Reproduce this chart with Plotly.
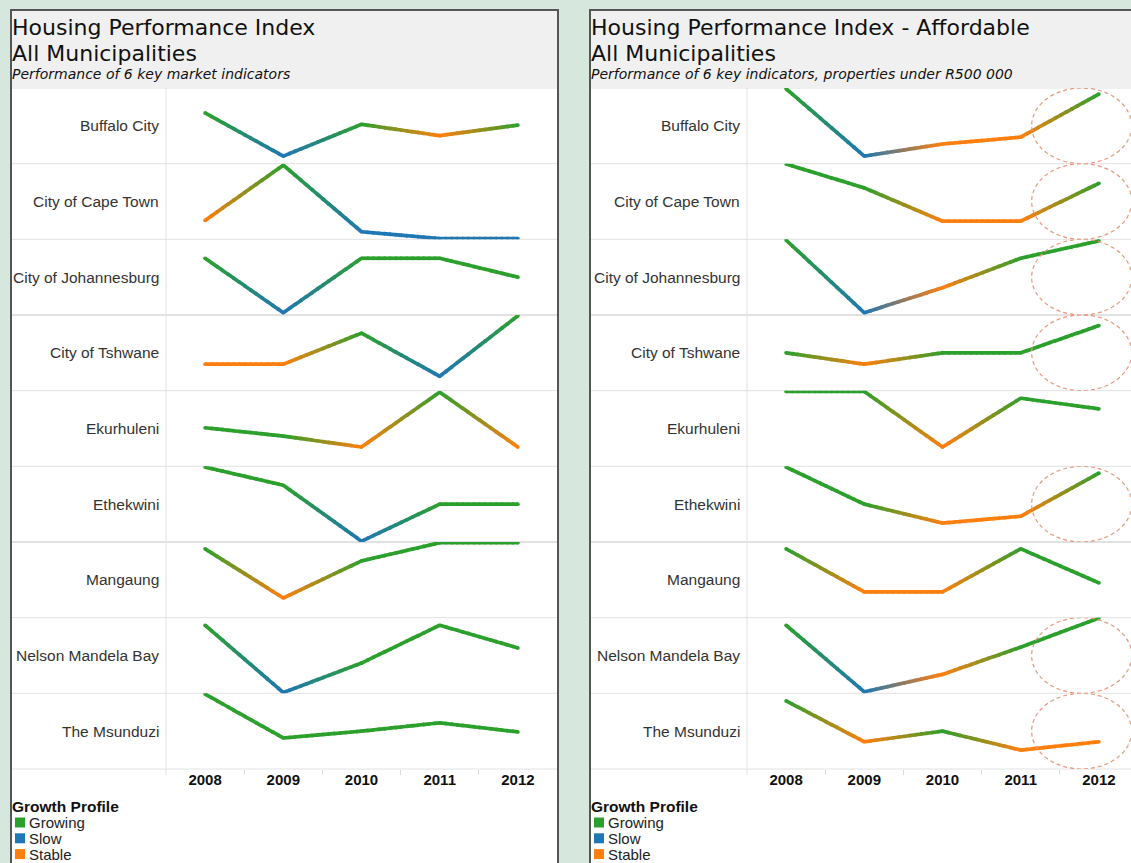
import plotly.graph_objects as go

W, H = 1131, 863

years = [2008, 2009, 2010, 2011, 2012]
municipalities = ["Buffalo City", "City of Cape Town", "City of Johannesburg",
                  "City of Tshwane", "Ekurhuleni", "Ethekwini", "Mangaung",
                  "Nelson Mandela Bay", "The Msunduzi"]
profile_names = ["Growing", "Slow", "Stable"]
profile_colors = {"Growing": "#2ca02c", "Slow": "#1f77b4", "Stable": "#ff7f0e"}
code = {"G": "Growing", "S": "Slow", "T": "Stable"}

# --- Housing Performance Index (all properties): relative score per row, growth profile per year
hpi_buffalo = [6.7, 1.0, 5.2, 3.7, 5.1];    hpi_buffalo_grp = ["G", "S", "G", "T", "G"]
hpi_capetown = [2.5, 9.8, 1.0, 0.1, 0.1];   hpi_capetown_grp = ["T", "G", "S", "S", "S"]
hpi_joburg = [7.5, 0.3, 7.5, 7.5, 5.0];     hpi_joburg_grp = ["G", "S", "G", "G", "G"]
hpi_tshwane = [3.5, 3.5, 7.6, 1.9, 9.9];    hpi_tshwane_grp = ["T", "T", "G", "S", "G"]
hpi_ekurhuleni = [5.1, 4.0, 2.55, 9.8, 2.55]; hpi_ekurhuleni_grp = ["G", "G", "T", "G", "T"]
hpi_ethekwini = [9.9, 7.5, 0.1, 5.0, 5.0];  hpi_ethekwini_grp = ["G", "G", "S", "G", "G"]
hpi_mangaung = [9.1, 2.6, 7.5, 9.9, 9.9];   hpi_mangaung_grp = ["G", "T", "G", "G", "G"]
hpi_nmb = [9.0, 0.1, 4.0, 9.0, 6.0];        hpi_nmb_grp = ["G", "S", "G", "G", "G"]
hpi_msunduzi = [9.9, 4.1, 5.0, 6.1, 4.9];   hpi_msunduzi_grp = ["G", "G", "G", "G", "G"]

# --- Housing Performance Index - Affordable (properties under R500 000)
aff_buffalo = [9.9, 1.0, 2.6, 3.5, 9.2];    aff_buffalo_grp = ["G", "S", "T", "T", "G"]
aff_capetown = [9.95, 6.8, 2.4, 2.4, 7.4];  aff_capetown_grp = ["G", "G", "T", "T", "G"]
aff_joburg = [9.9, 0.3, 3.6, 7.5, 9.8];     aff_joburg_grp = ["G", "S", "T", "G", "G"]
aff_tshwane = [5.0, 3.5, 5.0, 5.0, 8.6];    aff_tshwane_grp = ["G", "T", "G", "G", "G"]
aff_ekurhuleni = [9.9, 9.9, 2.55, 9.0, 7.6]; aff_ekurhuleni_grp = ["G", "G", "T", "G", "G"]
aff_ethekwini = [9.9, 5.0, 2.5, 3.4, 9.1];  aff_ethekwini_grp = ["G", "G", "T", "T", "G"]
aff_mangaung = [9.1, 3.4, 3.4, 9.1, 4.6];   aff_mangaung_grp = ["G", "T", "T", "G", "G"]
aff_nmb = [9.0, 0.2, 2.5, 6.1, 9.95];       aff_nmb_grp = ["G", "S", "T", "G", "G"]
aff_msunduzi = [9.0, 3.6, 5.0, 2.5, 3.6];   aff_msunduzi_grp = ["G", "T", "G", "T", "T"]

# municipalities highlighted with a dashed circle on the affordable panel
highlighted = ["Buffalo City", "City of Cape Town", "City of Johannesburg",
               "City of Tshwane", "Ethekwini", "Nelson Mandela Bay", "The Msunduzi"]

hpi_values = [hpi_buffalo, hpi_capetown, hpi_joburg, hpi_tshwane, hpi_ekurhuleni,
              hpi_ethekwini, hpi_mangaung, hpi_nmb, hpi_msunduzi]
hpi_groups = [hpi_buffalo_grp, hpi_capetown_grp, hpi_joburg_grp, hpi_tshwane_grp,
              hpi_ekurhuleni_grp, hpi_ethekwini_grp, hpi_mangaung_grp, hpi_nmb_grp,
              hpi_msunduzi_grp]
aff_values = [aff_buffalo, aff_capetown, aff_joburg, aff_tshwane, aff_ekurhuleni,
              aff_ethekwini, aff_mangaung, aff_nmb, aff_msunduzi]
aff_groups = [aff_buffalo_grp, aff_capetown_grp, aff_joburg_grp, aff_tshwane_grp,
              aff_ekurhuleni_grp, aff_ethekwini_grp, aff_mangaung_grp, aff_nmb_grp,
              aff_msunduzi_grp]

# ------------------------------------------------------------------ layout helpers
def px(x):
    return x / W


def py(y):
    return 1 - y / H


def hex_rgb(h):
    h = h.lstrip("#")
    return tuple(int(h[i:i + 2], 16) for i in (0, 2, 4))


def blend(c0, c1, t):
    return "rgb(%d,%d,%d)" % tuple(round(a + (b - a) * t) for a, b in zip(c0, c1))


ROW_TOP, ROW_BOTTOM = 88, 769
NROWS = len(municipalities)
ROW_H = (ROW_BOTTOM - ROW_TOP) / NROWS
PX_PER_YEAR = 78.2
FONT_LBL = "Liberation Sans, Arial, sans-serif"
FONT_TTL = "DejaVu Sans, Verdana, sans-serif"

panels = [
    dict(title="Housing Performance Index", sub="Performance of 6 key market indicators",
         values=hpi_values, groups=hpi_groups, box=(11, 558), plot=(166, 557),
         label_x=161, circles=[]),
    dict(title="Housing Performance Index - Affordable",
         sub="Performance of 6 key indicators, properties under R500 000",
         values=aff_values, groups=aff_groups, box=(590, 1140), plot=(747, 1131),
         label_x=742, circles=highlighted),
]

fig = go.Figure()
shapes = []
annotations = []
layout_axes = {}


def add_gradient_line(xs, ys, cats, xa, ya, steps=14, width=3.7):
    buckets = {}
    for i in range(len(xs) - 1):
        c0 = hex_rgb(profile_colors[code[cats[i]]])
        c1 = hex_rgb(profile_colors[code[cats[i + 1]]])
        for k in range(steps):
            t0 = k / steps
            t1 = min(1.0, (k + 1) / steps + 0.02)
            col = blend(c0, c1, (k + 0.5) / steps)
            bx, by = buckets.setdefault(col, ([], []))
            bx += [xs[i] + (xs[i + 1] - xs[i]) * t0, xs[i] + (xs[i + 1] - xs[i]) * t1, None]
            by += [ys[i] + (ys[i + 1] - ys[i]) * t0, ys[i] + (ys[i + 1] - ys[i]) * t1, None]
    for col, (bx, by) in buckets.items():
        fig.add_trace(go.Scatter(x=bx, y=by, mode="lines", xaxis=xa, yaxis=ya,
                                 line=dict(color=col, width=width),
                                 hoverinfo="skip", showlegend=False))
    fig.add_trace(go.Scatter(x=xs, y=ys, mode="markers", xaxis=xa, yaxis=ya,
                             marker=dict(size=width, line=dict(width=0),
                                         color=[profile_colors[code[c]] for c in cats]),
                             hoverinfo="skip", showlegend=False))


ax = 0
for p in panels:
    bx0, bx1 = p["box"]
    plx0, plx1 = p["plot"]
    # panel frame and header
    shapes.append(dict(type="rect", xref="paper", yref="paper", layer="below",
                       x0=px(bx0), x1=px(bx1), y0=py(10), y1=py(880),
                       fillcolor="white", line=dict(color="#555555", width=2)))
    shapes.append(dict(type="rect", xref="paper", yref="paper", layer="below",
                       x0=px(bx0 + 1), x1=px(min(bx1 - 1, W)), y0=py(11), y1=py(87),
                       fillcolor="#f0f0f0", line=dict(width=0)))
    # horizontal separators
    for i in range(NROWS + 1):
        yy = ROW_TOP + i * ROW_H
        col = "#c4c4c4" if i in (3, 6) else "#e2e2e2"
        shapes.append(dict(type="line", xref="paper", yref="paper", layer="below",
                           x0=px(bx0 + 1), x1=px(min(bx1 - 1, W)), y0=py(yy), y1=py(yy),
                           line=dict(color=col, width=1)))
    # vertical divider between labels and plots
    shapes.append(dict(type="line", xref="paper", yref="paper", layer="below",
                       x0=px(plx0), x1=px(plx0), y0=py(ROW_TOP), y1=py(ROW_BOTTOM + 6),
                       line=dict(color="#e2e2e2", width=1)))
    # titles
    annotations.append(dict(text=p["title"], x=px(bx0 - 1), y=py(28), xref="paper", yref="paper",
                            xanchor="left", yanchor="middle", showarrow=False,
                            font=dict(family=FONT_TTL, size=22, color="#111111")))
    annotations.append(dict(text="All Municipalities", x=px(bx0 - 1), y=py(53), xref="paper",
                            yref="paper", xanchor="left", yanchor="middle", showarrow=False,
                            font=dict(family=FONT_TTL, size=22, color="#111111")))
    annotations.append(dict(text="<i>" + p["sub"] + "</i>", x=px(bx0 - 1), y=py(74), xref="paper",
                            yref="paper", xanchor="left", yanchor="middle", showarrow=False,
                            font=dict(family=FONT_TTL, size=14, color="#111111")))
    # legend
    annotations.append(dict(text="<b>Growth Profile</b>", x=px(bx0 - 1), y=py(806), xref="paper",
                            yref="paper", xanchor="left", yanchor="middle", showarrow=False,
                            font=dict(family=FONT_LBL, size=15.5, color="#111111")))
    for j, name in enumerate(profile_names):
        yc = 822.5 + j * 15.8
        shapes.append(dict(type="rect", xref="paper", yref="paper",
                           x0=px(bx0 + 4), x1=px(bx0 + 14), y0=py(yc - 5), y1=py(yc + 5),
                           fillcolor=profile_colors[name], line=dict(width=0)))
        annotations.append(dict(text=name, x=px(bx0 + 16), y=py(yc), xref="paper", yref="paper",
                                xanchor="left", yanchor="middle", showarrow=False,
                                font=dict(family=FONT_LBL, size=15, color="#222222")))

    xr = [2007.5, 2007.5 + (plx1 - plx0) / PX_PER_YEAR]
    for r, muni in enumerate(municipalities):
        ax += 1
        xa = "x" if ax == 1 else "x%d" % ax
        ya = "y" if ax == 1 else "y%d" % ax
        top = ROW_TOP + r * ROW_H
        bot = top + ROW_H
        last = r == NROWS - 1
        xdict = dict(domain=[px(plx0), px(plx1)], range=xr, anchor=ya,
                     showgrid=False, zeroline=False, showline=False, fixedrange=True,
                     tickvals=years, ticktext=["<b>%d</b>" % y for y in years],
                     showticklabels=last, ticks="",
                     tickfont=dict(family=FONT_LBL, size=15, color="#111111"))
        if last:
            xdict["minor"] = dict(tickvals=[y + 0.5 for y in years[:-1]], ticks="outside",
                                  ticklen=5, tickcolor="#dddddd", tickwidth=1, showgrid=False)
        layout_axes["xaxis" if ax == 1 else "xaxis%d" % ax] = xdict
        layout_axes["yaxis" if ax == 1 else "yaxis%d" % ax] = dict(
            domain=[py(bot), py(top)], range=[0, 10], anchor=xa, showgrid=False,
            zeroline=False, showline=False, showticklabels=False, ticks="", fixedrange=True)

        annotations.append(dict(text=muni, x=px(p["label_x"]), y=py((top + bot) / 2),
                                xref="paper", yref="paper", xanchor="right", yanchor="middle",
                                showarrow=False,
                                font=dict(family=FONT_LBL, size=15.5, color="#333333")))

        add_gradient_line(years, p["values"][r], p["groups"][r], xa, ya)

        if muni in p["circles"]:
            shapes.append(dict(type="circle", xref=xa, yref=ya, layer="above",
                               x0=2011.14, x1=2012.42, y0=0.0, y1=10.0,
                               line=dict(color="#e8967a", width=1.2, dash="4px,3px")))

fig.update_layout(
    width=W, height=H, margin=dict(l=0, r=0, t=0, b=0),
    paper_bgcolor="#d6e8dd", plot_bgcolor="rgba(0,0,0,0)",
    showlegend=False, shapes=shapes, annotations=annotations, **layout_axes,
)

fig.write_html("out.html", config={"displayModeBar": False},
               post_script="document.body.style.margin='0px';"
                           "document.body.style.overflow='hidden';")
